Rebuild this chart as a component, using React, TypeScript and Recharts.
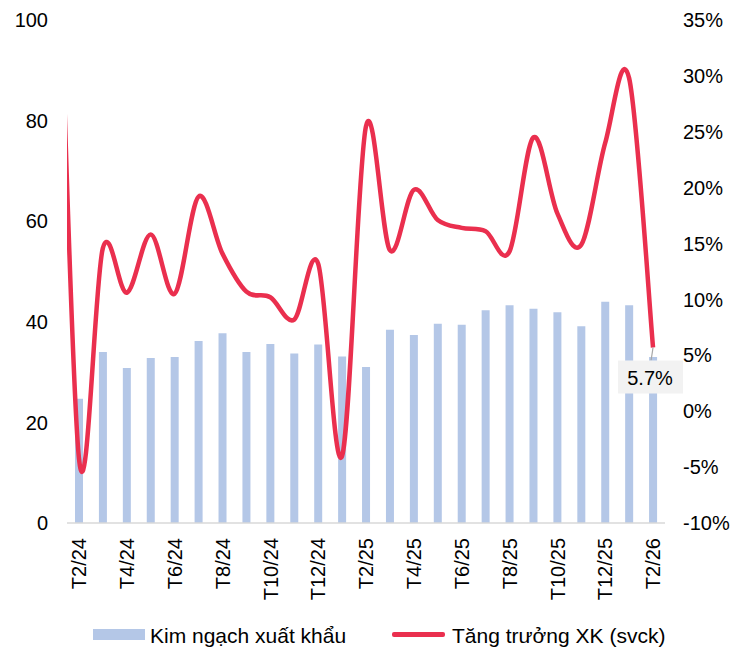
import React from "react";
import {
  ComposedChart,
  Bar,
  Line,
  XAxis,
  YAxis,
  Legend,
} from "recharts";

const months = [
  "T2/24", "T3/24", "T4/24", "T5/24", "T6/24", "T7/24", "T8/24", "T9/24", "T10/24",
  "T11/24", "T12/24", "T1/25", "T2/25", "T3/25", "T4/25", "T5/25", "T6/25", "T7/25",
  "T8/25", "T9/25", "T10/25", "T11/25", "T12/25", "T1/26", "T2/26",
];

// kim ngạch xuất khẩu (tỷ USD)
const exportValue = [
  24.7, 34.0, 30.8, 32.8, 33.0, 36.2, 37.7, 34.0, 35.6, 33.7, 35.5, 33.1, 31.0,
  38.4, 37.4, 39.6, 39.4, 42.3, 43.3, 42.6, 41.9, 39.1, 44.0, 43.3, 33.0,
];

// tăng trưởng svck (%)
const growth = [
  -4.2, 14.6, 10.6, 15.8, 10.5, 19.2, 14.1, 10.7, 10.2, 8.2, 13.2, -4.0, 25.5,
  14.4, 19.8, 17.1, 16.4, 16.1, 14.3, 24.5, 17.7, 14.9, 24.0, 29.8, 5.7,
];

// T1/24 point, only its tail enters the plot from the left edge
const growthT1_24 = 55;

const leftTicks = [0, 20, 40, 60, 80, 100];
const rightTicks = [-10, -5, 0, 5, 10, 15, 20, 25, 30, 35];

const BAR_COLOR = "#b4c7e7";
const LINE_COLOR = "#ea2f4e";
const FONT = "'Liberation Sans', Arial, sans-serif";

const barData = months.map((m, i) => ({ month: m, value: exportValue[i] }));
const lineData = [
  { idx: -1, growth: growthT1_24 },
  ...months.map((m, i) => ({ idx: i, growth: growth[i] })),
];

// Excel-style smoothed line (Catmull-Rom through the points)
function excelCurve(context: any) {
  let pts: number[][] = [];
  return {
    areaStart() {},
    areaEnd() {},
    lineStart() {
      pts = [];
    },
    point(x: number, y: number) {
      pts.push([+x, +y]);
    },
    lineEnd() {
      if (!pts.length) return;
      context.moveTo(pts[0][0], pts[0][1]);
      for (let i = 0; i < pts.length - 1; i++) {
        const p0 = pts[i - 1] || pts[i];
        const p1 = pts[i];
        const p2 = pts[i + 1];
        const p3 = pts[i + 2] || p2;
        context.bezierCurveTo(
          p1[0] + (p2[0] - p0[0]) / 6,
          p1[1] + (p2[1] - p0[1]) / 6,
          p2[0] - (p3[0] - p1[0]) / 6,
          p2[1] - (p3[1] - p1[1]) / 6,
          p2[0],
          p2[1]
        );
      }
    },
  };
}

const MonthTick = (props: any) => {
  const { x, y, payload } = props;
  return (
    <g transform={`translate(${x},${y})`}>
      <text
        transform="rotate(-90)"
        x={-7}
        y={0}
        dy="0.36em"
        textAnchor="end"
        fontSize={20}
        fontFamily={FONT}
        fill="#000"
      >
        {payload.value}
      </text>
    </g>
  );
};

const LastLabel = (props: any) => {
  const { x, y, index, value } = props;
  if (index !== lineData.length - 1) return null;
  return (
    <g>
      <line x1={x} y1={y} x2={x - 2} y2={y + 13} stroke="#a6a6a6" strokeWidth={1.2} />
      <rect x={x - 35} y={y + 13} width={65} height={33} fill="#f2f2f2" />
      <text
        x={x - 3}
        y={y + 37}
        textAnchor="middle"
        fontSize={20}
        fontFamily={FONT}
        fill="#000"
      >
        {`${value}%`}
      </text>
    </g>
  );
};

const LegendContent = () => (
  <div
    style={{
      position: "relative",
      width: 730,
      height: 30,
      fontFamily: FONT,
      fontSize: 21,
      color: "#000",
    }}
  >
    <div style={{ position: "absolute", left: 93, top: 10, width: 52, height: 11, background: BAR_COLOR }} />
    <span style={{ position: "absolute", left: 150, top: 4, lineHeight: "25px", whiteSpace: "nowrap" }}>
      Kim ngạch xuất khẩu
    </span>
    <div style={{ position: "absolute", left: 392, top: 13, width: 53, height: 4.5, borderRadius: 2, background: LINE_COLOR }} />
    <span style={{ position: "absolute", left: 452, top: 4, lineHeight: "25px", whiteSpace: "nowrap" }}>
      Tăng trưởng XK (svck)
    </span>
  </div>
);

export default function App() {
  return (
    <div style={{ position: "absolute", left: 0, top: 0, background: "#fff" }}>
      <ComposedChart
        width={730}
        height={649}
        data={barData}
        margin={{ top: 20, right: 0, bottom: 0, left: 0 }}
      >
        <XAxis
          xAxisId="cat"
          dataKey="month"
          interval={1}
          tickLine={false}
          axisLine={{ stroke: "#d9d9d9", strokeWidth: 1.5 }}
          tick={<MonthTick />}
          height={96}
        />
        <XAxis
          xAxisId="num"
          type="number"
          dataKey="idx"
          domain={[-0.5, 24.5]}
          allowDataOverflow
          hide
        />
        <YAxis
          yAxisId="left"
          orientation="left"
          domain={[0, 100]}
          ticks={leftTicks}
          width={67}
          axisLine={false}
          tickLine={false}
          tickSize={0}
          tickMargin={19}
          tick={{ fontSize: 20, fontFamily: FONT, fill: "#000" }}
        />
        <YAxis
          yAxisId="right"
          orientation="right"
          domain={[-10, 35]}
          allowDataOverflow
          ticks={rightTicks}
          width={65}
          axisLine={false}
          tickLine={false}
          tickSize={0}
          tickMargin={18}
          tickFormatter={(v: number) => `${v}%`}
          tick={{ fontSize: 20, fontFamily: FONT, fill: "#000", textAnchor: "start" }}
        />
        <Legend verticalAlign="bottom" content={<LegendContent />} />
        <Bar
          xAxisId="cat"
          yAxisId="left"
          dataKey="value"
          name="Kim ngạch xuất khẩu"
          fill={BAR_COLOR}
          barSize={8}
          isAnimationActive={false}
        />
        <Line
          xAxisId="num"
          yAxisId="right"
          data={lineData}
          dataKey="growth"
          name="Tăng trưởng XK (svck)"
          type={excelCurve as any}
          stroke={LINE_COLOR}
          strokeWidth={4.5}
          dot={false}
          activeDot={false}
          label={<LastLabel />}
          isAnimationActive={false}
        />
      </ComposedChart>
    </div>
  );
}
